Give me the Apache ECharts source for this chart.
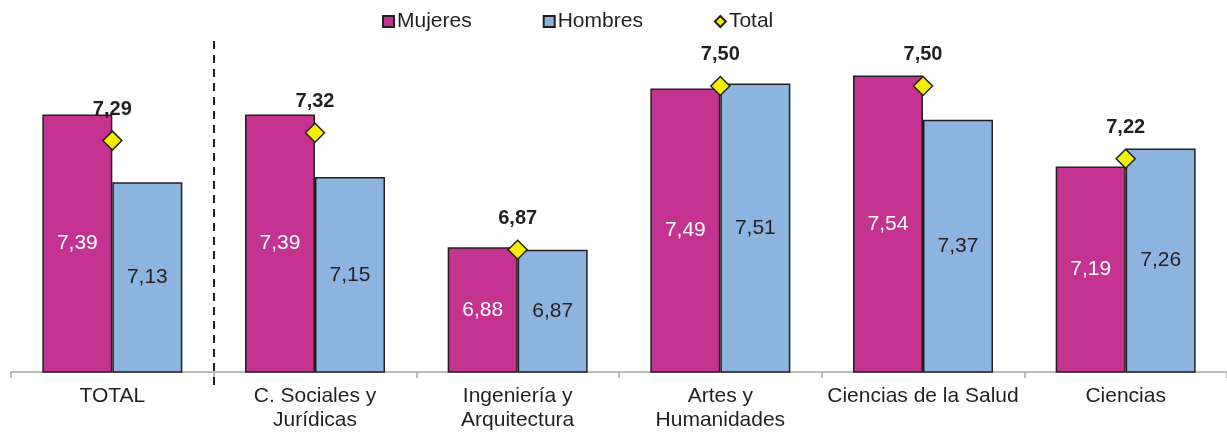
<!DOCTYPE html>
<html>
<head>
<meta charset="utf-8">
<script src="https://cdn.jsdelivr.net/npm/echarts@6/dist/echarts.min.js"></script>
<style>
  html, body { margin: 0; padding: 0; background: #fff; }
  #chart { width: 1227px; height: 432px; }
</style>
</head>
<body>
<div id="chart"></div>
<script>
const categories = [
  "TOTAL",
  "C. Sociales y\nJurídicas",
  "Ingeniería y\nArquitectura",
  "Artes y\nHumanidades",
  "Ciencias de la Salud",
  "Ciencias"
];
const mujeres = [7.39, 7.39, 6.88, 7.49, 7.54, 7.19];
const hombres = [7.13, 7.15, 6.87, 7.51, 7.37, 7.26];
const total = [7.29, 7.32, 6.87, 7.50, 7.50, 7.22];

const FONT = "'Liberation Sans', Arial, sans-serif";
const INK = "#231f20";

function fmt(v) {
  return v.toFixed(2).replace(".", ",");
}

const chart = echarts.init(document.getElementById("chart"));

chart.setOption({
  animation: false,
  backgroundColor: "#fff",
  textStyle: { fontFamily: FONT },
  legend: {
    left: 382,
    top: 11,
    padding: 0,
    itemWidth: 11,
    itemHeight: 11,
    itemGap: 71,
    textStyle: { fontFamily: FONT, fontSize: 21, color: INK, padding: [0, 0, 0, -2] },
    data: [
      { name: "Mujeres", icon: "rect" },
      { name: "Hombres", icon: "rect" },
      { name: "Total", icon: "diamond" }
    ]
  },
  grid: { left: 11, width: 1218, top: 60, bottom: 58 },
  xAxis: {
    type: "category",
    data: categories,
    axisLine: { show: true, lineStyle: { color: "#a6a6a6", width: 1.5 } },
    axisTick: { show: true, length: 6, lineStyle: { color: "#a6a6a6", width: 1.5 } },
    axisLabel: {
      fontFamily: FONT,
      fontSize: 21,
      color: INK,
      margin: 12,
      lineHeight: 24,
      interval: 0
    }
  },
  yAxis: {
    type: "value",
    min: 6.4,
    max: 7.6,
    show: false
  },
  series: [
    {
      name: "Mujeres",
      type: "bar",
      data: mujeres,
      barWidth: 70,
      barGap: "0%",
      itemStyle: { color: "#c4338f", borderColor: INK, borderWidth: 1.5 },
      label: {
        show: true,
        position: "inside",
        fontFamily: FONT,
        fontSize: 21,
        color: "#fff",
        formatter: (p) => fmt(p.value)
      }
    },
    {
      name: "Hombres",
      type: "bar",
      data: hombres,
      barWidth: 70,
      barGap: "0%",
      itemStyle: { color: "#8db3df", borderColor: INK, borderWidth: 1.5 },
      label: {
        show: true,
        position: "inside",
        fontFamily: FONT,
        fontSize: 21,
        color: INK,
        formatter: (p) => fmt(p.value)
      }
    },
    {
      name: "Total",
      type: "line",
      data: total,
      z: 5,
      symbol: "diamond",
      symbolSize: 19,
      lineStyle: { width: 0, opacity: 0 },
      itemStyle: { color: "#f5ef00", borderColor: INK, borderWidth: 1.5 },
      label: {
        show: true,
        position: "top",
        distance: 11,
        fontFamily: FONT,
        fontSize: 20,
        fontWeight: "bold",
        color: INK,
        formatter: (p) => fmt(p.value)
      }
    }
  ]
});

// dashed separator between TOTAL and the branches
const x0 = chart.convertToPixel({ xAxisIndex: 0 }, categories[0]);
const x1 = chart.convertToPixel({ xAxisIndex: 0 }, categories[1]);
const sepX = Math.round((x0 + x1) / 2);
chart.setOption({
  graphic: [
    {
      type: "line",
      shape: { x1: sepX, y1: 41, x2: sepX, y2: 386 },
      style: { stroke: INK, lineWidth: 2, lineDash: [8, 6] },
      z: 10
    }
  ]
});
</script>
</body>
</html>
